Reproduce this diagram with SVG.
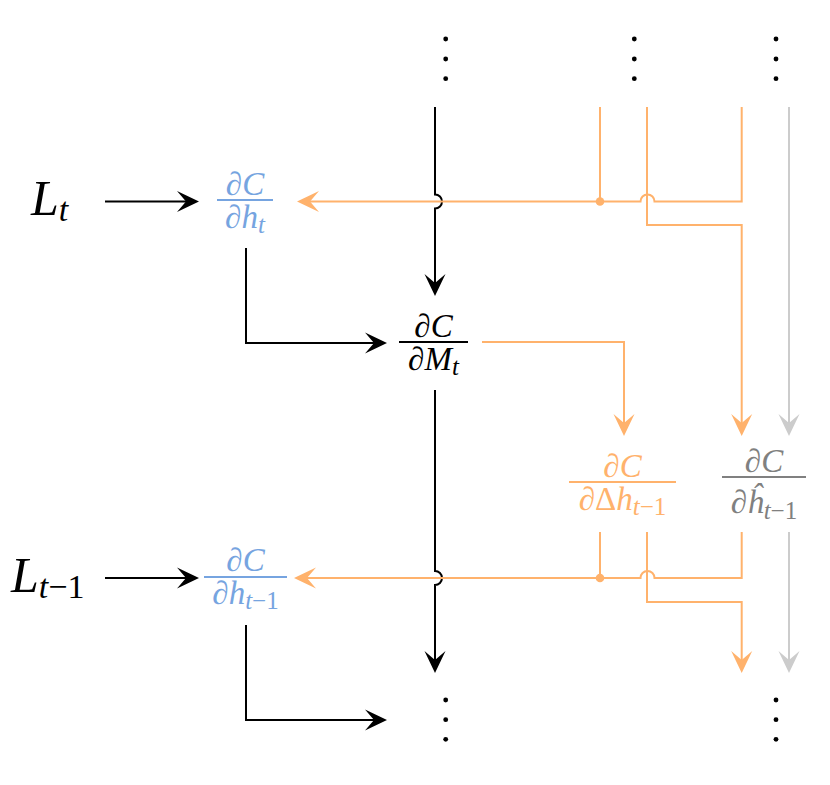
<svg xmlns="http://www.w3.org/2000/svg" width="830" height="785" viewBox="0 0 830 785">
<style>
  .k{fill:none;stroke:#000;stroke-width:2}
  .o{fill:none;stroke:#ffb26c;stroke-width:2}
  .g{fill:none;stroke:#cccccc;stroke-width:2}
  .t{font-family:"Liberation Serif","DejaVu Serif",serif;font-size:33px}
  .s{font-size:25px}
  .big{font-family:"Liberation Serif","DejaVu Serif",serif;font-size:50px}
  .i{font-style:italic}
  .blue{fill:#76a4e0}
  .org{fill:#ffb26c}
  .gry{fill:#808080}
  .blk{fill:#000}
</style>
<defs>
  <marker id="ak" markerUnits="userSpaceOnUse" orient="auto" refX="0" refY="0" markerWidth="30" markerHeight="30" overflow="visible"><path d="M4 0 L-18 -10.5 L-9 0 L-18 10.5 Z" fill="#000"/></marker>
  <marker id="ao" markerUnits="userSpaceOnUse" orient="auto" refX="0" refY="0" markerWidth="30" markerHeight="30" overflow="visible"><path d="M4 0 L-18 -10.5 L-9 0 L-18 10.5 Z" fill="#ffb26c"/></marker>
  <marker id="ag" markerUnits="userSpaceOnUse" orient="auto" refX="0" refY="0" markerWidth="30" markerHeight="30" overflow="visible"><path d="M4 0 L-18 -10.5 L-9 0 L-18 10.5 Z" fill="#cccccc"/></marker>
</defs>

<g id="connectors">
  <path class="k" d="M105 201.5 H195" marker-end="url(#ak)"/>
  <path class="k" d="M105 578 H195" marker-end="url(#ak)"/>
  <path class="k" d="M246 248 V343 H383" marker-end="url(#ak)"/>
  <path class="k" d="M246 625 V720 H383" marker-end="url(#ak)"/>
  <path class="k" d="M435 107 V194.5 a7 7 0 0 1 0 14 V292" marker-end="url(#ak)"/>
  <path class="k" d="M435 390 V571 a7 7 0 0 1 0 14 V669" marker-end="url(#ak)"/>

  <path class="o" d="M741.7 107 V201.5 H654.5 a7 7 0 0 0 -14 0 H301" marker-end="url(#ao)"/>
  <path class="o" d="M600 107 V201.5"/>
  <circle cx="600" cy="201.5" r="4.3" fill="#ffb26c"/>
  <path class="o" d="M647 107 V225 H741.7 V432" marker-end="url(#ao)"/>
  <path class="o" d="M482 342 H624 V432" marker-end="url(#ao)"/>
  <path class="o" d="M741.7 532 V578 H654.5 a7 7 0 0 0 -14 0 H298" marker-end="url(#ao)"/>
  <path class="o" d="M600 532 V578"/>
  <circle cx="600" cy="578" r="4.3" fill="#ffb26c"/>
  <path class="o" d="M647 532 V602 H741.7 V669" marker-end="url(#ao)"/>

  <path class="g" d="M789 107 V432" marker-end="url(#ag)"/>
  <path class="g" d="M789 532 V669" marker-end="url(#ag)"/>
</g>

<g id="dots-top" fill="#000">
  <circle cx="445.7" cy="39" r="2.4"/><circle cx="445.7" cy="59" r="2.4"/><circle cx="445.7" cy="78.7" r="2.4"/>
  <circle cx="634.3" cy="39" r="2.4"/><circle cx="634.3" cy="59" r="2.4"/><circle cx="634.3" cy="78.7" r="2.4"/>
  <circle cx="776" cy="39" r="2.4"/><circle cx="776" cy="59" r="2.4"/><circle cx="776" cy="78.7" r="2.4"/>
</g>
<g id="dots-bottom" fill="#000">
  <circle cx="445.7" cy="700" r="2.4"/><circle cx="445.7" cy="719.7" r="2.4"/><circle cx="445.7" cy="739.3" r="2.4"/>
  <circle cx="776" cy="700" r="2.4"/><circle cx="776" cy="719.7" r="2.4"/><circle cx="776" cy="739.3" r="2.4"/>
</g>

<g id="Lt">
  <text class="big i blk" x="31" y="215">L<tspan font-size="34" dy="6">t</tspan></text>
</g>
<g id="Lt1">
  <text class="big i blk" x="11" y="592">L<tspan font-size="34" dy="6">t</tspan><tspan font-size="34" font-style="normal">−1</tspan></text>
</g>

<g id="dC_dht">
  <rect x="217" y="199" width="56" height="2" fill="#76a4e0"/>
  <text class="t blue" text-anchor="middle"><tspan x="245" y="195">∂<tspan class="i">C</tspan></tspan><tspan x="245" y="228">∂<tspan class="i">h</tspan><tspan class="i s" dy="5">t</tspan></tspan></text>
</g>

<g id="dC_dMt">
  <rect x="399" y="341" width="69" height="2" fill="#000"/>
  <text class="t blk" text-anchor="middle"><tspan x="433.5" y="337">∂<tspan class="i">C</tspan></tspan><tspan x="433.5" y="370">∂<tspan class="i">M</tspan><tspan class="i s" dy="5">t</tspan></tspan></text>
</g>

<g id="dC_dDh">
  <rect x="569" y="481" width="107" height="2" fill="#ffb26c"/>
  <text class="t org" text-anchor="middle"><tspan x="622.5" y="477">∂<tspan class="i">C</tspan></tspan><tspan x="622.5" y="510">∂Δ<tspan class="i">h</tspan><tspan class="i s" dy="5">t</tspan><tspan class="s">−1</tspan></tspan></text>
</g>

<g id="dC_dhhat">
  <rect x="722" y="476" width="84" height="2" fill="#808080"/>
  <text class="t gry" text-anchor="middle"><tspan x="764" y="472">∂<tspan class="i">C</tspan></tspan><tspan x="764" y="513">∂<tspan class="i">ĥ</tspan><tspan class="i s" dy="6">t</tspan><tspan class="s">−1</tspan></tspan></text>
</g>

<g id="dC_dht1">
  <rect x="204" y="576" width="83" height="2" fill="#76a4e0"/>
  <text class="t blue" text-anchor="middle"><tspan x="245.5" y="571">∂<tspan class="i">C</tspan></tspan><tspan x="245.5" y="604">∂<tspan class="i">h</tspan><tspan class="i s" dy="5">t</tspan><tspan class="s">−1</tspan></tspan></text>
</g>
</svg>
